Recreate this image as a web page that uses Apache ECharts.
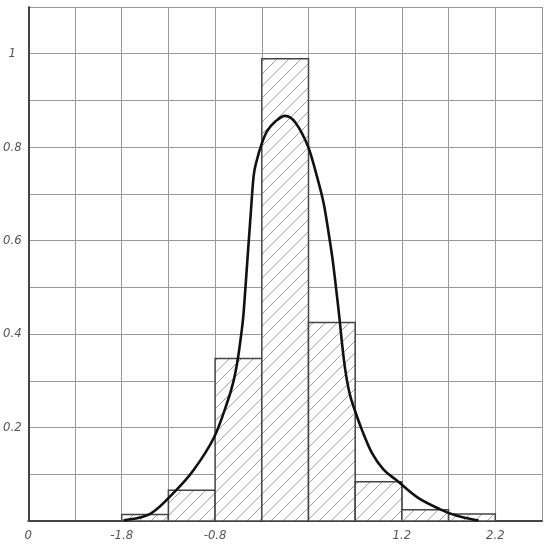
<!DOCTYPE html>
<html>
<head>
<meta charset="utf-8">
<style>
  html, body { margin: 0; padding: 0; background: #fff; }
  #main { width: 550px; height: 544px; }
</style>
<script src="https://cdn.jsdelivr.net/npm/echarts@6/dist/echarts.min.js"></script>
</head>
<body>
<div id="main"></div>
<script>
// histogram bins: left edge, right edge, height
const binStart = [-1.8, -1.3, -0.8, -0.3, 0.2, 0.7, 1.2, 1.7];
const binEnd = [-1.3, -0.8, -0.3, 0.2, 0.7, 1.2, 1.7, 2.2];
const binHeight = [0.014, 0.066, 0.348, 0.989, 0.425, 0.084, 0.024, 0.015];

// density curve
const curveX = [-1.78, -1.49, -1.226, -1.03, -0.816, -0.673, -0.602, -0.555, -0.52, -0.495, -0.459,
  -0.423, -0.388, -0.352, -0.305, -0.245, -0.155, -0.05, 0.059, 0.194, 0.291, 0.362, 0.415, 0.458,
  0.494, 0.53, 0.559, 0.594, 0.64, 0.694, 0.772, 0.88, 1.004, 1.15, 1.37, 1.61, 1.79, 2.02];
const curveY = [0.001, 0.016, 0.064, 0.109, 0.177, 0.252, 0.30, 0.349, 0.40, 0.445, 0.545,
  0.645, 0.737, 0.773, 0.805, 0.834, 0.855, 0.867, 0.853, 0.802, 0.737, 0.68, 0.617, 0.56,
  0.50, 0.437, 0.38, 0.323, 0.273, 0.238, 0.195, 0.145, 0.11, 0.086, 0.05, 0.025, 0.011, 0.001];

// one label per grid line
const xTickLabels = ['0', '', '-1.8', '', '-0.8', '', '', '', '1.2', '', '2.2', ''];
const yTickLabels = ['', '', '0.2', '', '0.4', '', '0.6', '', '0.8', '', '1', ''];

const xOrigin = -2.8; // x value at the left edge of the grid
const xStep = 0.5;
const yStep = 0.1;

// axis runs from 0, so ticks land on the grid lines
const shift = v => +(v - xOrigin).toFixed(4);

function hatch() {
  const s = 12;
  const c = document.createElement('canvas');
  c.width = s;
  c.height = s;
  const g = c.getContext('2d');
  g.fillStyle = '#fff';
  g.fillRect(0, 0, s, s);
  g.strokeStyle = '#a0a0a0';
  g.lineWidth = 1;
  g.beginPath();
  g.moveTo(0, s); g.lineTo(s, 0);
  g.moveTo(-1, 1); g.lineTo(1, -1);
  g.moveTo(s - 1, s + 1); g.lineTo(s + 1, s - 1);
  g.stroke();
  return c;
}

// catmull-rom through screen points -> svg path
function splinePath(pts) {
  let d = 'M' + pts[0][0] + ',' + pts[0][1];
  for (let i = 0; i < pts.length - 1; i++) {
    const p0 = pts[Math.max(i - 1, 0)];
    const p1 = pts[i];
    const p2 = pts[i + 1];
    const p3 = pts[Math.min(i + 2, pts.length - 1)];
    const c1 = [p1[0] + (p2[0] - p0[0]) / 6, p1[1] + (p2[1] - p0[1]) / 6];
    const c2 = [p2[0] - (p3[0] - p1[0]) / 6, p2[1] - (p3[1] - p1[1]) / 6];
    d += 'C' + c1.join(',') + ' ' + c2.join(',') + ' ' + p2.join(',');
  }
  return d;
}

const chart = echarts.init(document.getElementById('main'));
const hatchFill = { type: 'pattern', image: hatch(), repeat: 'repeat' };

const labelStyle = {
  color: '#555',
  fontStyle: 'italic',
  fontFamily: 'DejaVu Sans Condensed',
  fontSize: 13
};

const curveData = curveX.map((x, i) => [shift(x), curveY[i]]);

const option = {
  animation: false,
  grid: { left: 28, right: 8, top: 7, bottom: 23 },
  xAxis: {
    type: 'value',
    min: 0,
    max: 5.5,
    interval: xStep,
    axisLine: { show: true, onZero: false, lineStyle: { color: '#444', width: 2 } },
    axisTick: { show: false },
    splitLine: { show: true, lineStyle: { color: '#999', width: 1 } },
    axisLabel: Object.assign({
      margin: 8,
      showMinLabel: true,
      showMaxLabel: true,
      formatter: v => xTickLabels[Math.round(v / xStep)] || ''
    }, labelStyle)
  },
  yAxis: {
    type: 'value',
    min: 0,
    max: 1.1,
    interval: yStep,
    axisLine: { show: true, onZero: false, lineStyle: { color: '#444', width: 2 } },
    axisTick: { show: false },
    splitLine: { show: true, lineStyle: { color: '#999', width: 1 } },
    axisLabel: Object.assign({
      margin: 16,
      align: 'center',
      formatter: v => yTickLabels[Math.round(v / yStep)] || ''
    }, labelStyle)
  },
  series: [
    {
      type: 'custom',
      encode: { x: [0, 1], y: 2 },
      data: binStart.map((s, i) => [shift(s), shift(binEnd[i]), binHeight[i]]),
      renderItem: function (params, api) {
        const p0 = api.coord([api.value(0), api.value(2)]);
        const p1 = api.coord([api.value(1), 0]);
        return {
          type: 'rect',
          shape: { x: p0[0], y: p0[1], width: p1[0] - p0[0], height: p1[1] - p0[1] },
          style: { fill: hatchFill, stroke: '#444', lineWidth: 1.5 }
        };
      },
      z: 2
    },
    {
      // whole curve drawn once, as a spline through the points
      type: 'custom',
      encode: { x: 0, y: 1 },
      data: curveData,
      renderItem: function (params, api) {
        if (params.dataIndex !== 0) return;
        const pts = curveData.map(p => api.coord(p));
        return {
          type: 'path',
          shape: { pathData: splinePath(pts) },
          style: { fill: null, stroke: '#111', lineWidth: 2.6 }
        };
      },
      z: 3
    }
  ]
};

chart.setOption(option);
</script>
</body>
</html>
